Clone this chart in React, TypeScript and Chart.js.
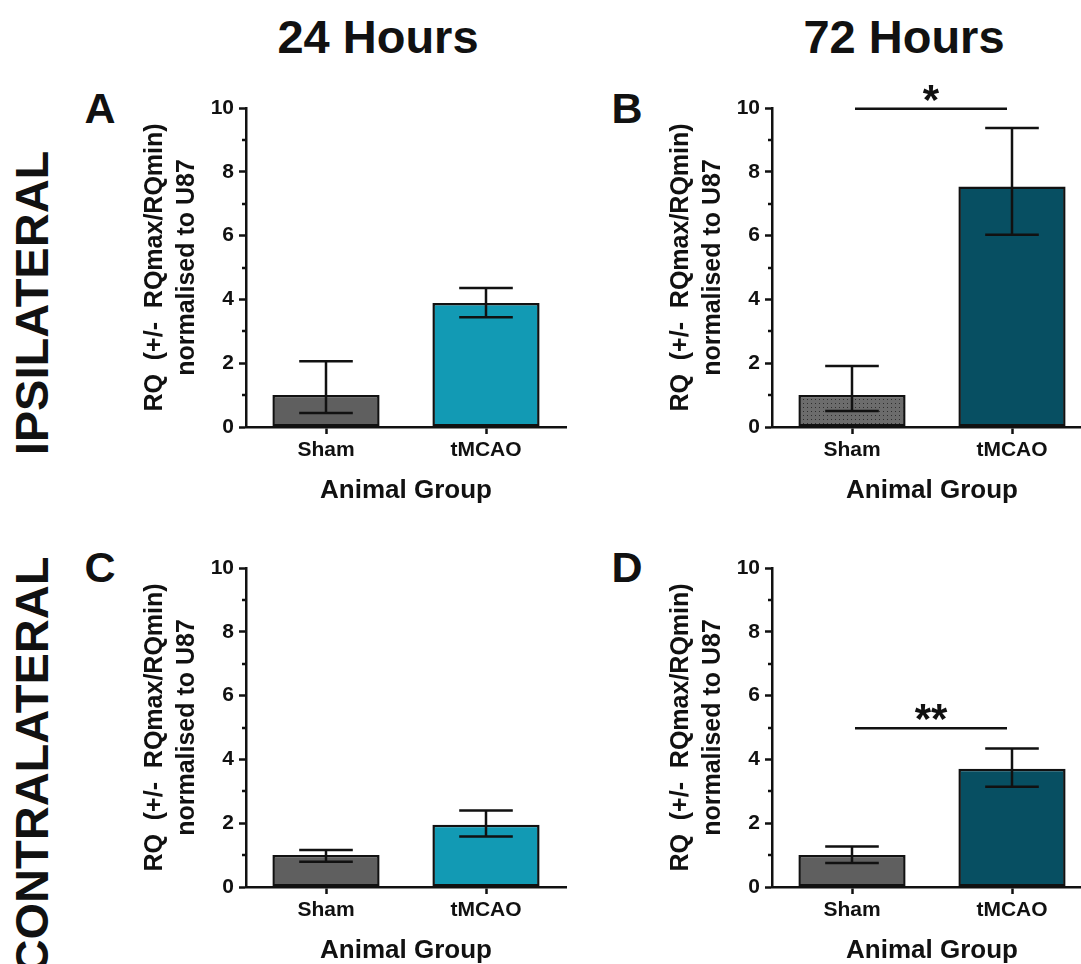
import React, { useEffect, useRef } from 'react';
import { Chart, registerables } from 'chart.js';

Chart.register(...registerables);

const FONT = "'Liberation Sans', Arial, Helvetica, sans-serif";

const categories = ['Sham', 'tMCAO'];
const yTitle = ['RQ  (+/-  RQmax/RQmin)', 'normalised to U87'];
const xTitle = 'Animal Group';
const minorTicks = [1, 3, 5, 7, 9];

const meansA = [1.0, 3.89];
const lowA = [0.44, 3.44];
const highA = [2.06, 4.36];

const meansB = [1.0, 7.54];
const lowB = [0.5, 6.03];
const highB = [1.91, 9.37];

const meansC = [1.0, 1.95];
const lowC = [0.79, 1.58];
const highC = [1.16, 2.4];

const meansD = [1.0, 3.71];
const lowD = [0.75, 3.14];
const highD = [1.27, 4.34];

const sigB = { y: 9.98, label: '*' };
const sigD = { y: 4.98, label: '**' };

const GREY = '#5f5f5f';
const TEAL = '#129ab4';
const DARK_TEAL = '#074f62';
const INK = '#111111';

const overlayPlugin = {
  id: 'overlay',
  afterDatasetsDraw(chart: any) {
    const o = chart.options.plugins.overlay;
    if (!o) return;
    const { ctx } = chart;
    const x = chart.scales.x;
    const y = chart.scales.y;
    const meta = chart.getDatasetMeta(0);
    ctx.save();
    ctx.strokeStyle = INK;
    ctx.lineWidth = 2.5;
    ctx.lineCap = 'butt';
    for (const v of o.minor) {
      const py = Math.round(y.getPixelForValue(v));
      ctx.beginPath();
      ctx.moveTo(y.right - 4, py);
      ctx.lineTo(y.right, py);
      ctx.stroke();
    }
    o.low.forEach((lo: number, i: number) => {
      const el = meta.data[i];
      const cx = el.x;
      const half = el.width / 4;
      const yl = y.getPixelForValue(lo);
      const yh = y.getPixelForValue(o.high[i]);
      ctx.beginPath();
      ctx.moveTo(cx, yl);
      ctx.lineTo(cx, yh);
      ctx.moveTo(cx - half, yl);
      ctx.lineTo(cx + half, yl);
      ctx.moveTo(cx - half, yh);
      ctx.lineTo(cx + half, yh);
      ctx.stroke();
    });
    if (o.sig) {
      const py = y.getPixelForValue(o.sig.y);
      const x1 = x.getPixelForValue(0) + 3;
      const x2 = x.getPixelForValue(1) - 5;
      ctx.beginPath();
      ctx.moveTo(x1, py);
      ctx.lineTo(x2, py);
      ctx.stroke();
      ctx.fillStyle = INK;
      ctx.font = `bold 42px ${FONT}`;
      ctx.textAlign = 'center';
      ctx.textBaseline = 'alphabetic';
      ctx.fillText(o.sig.label, (x1 + x2) / 2, py + 5);
    }
    ctx.restore();
  },
};

function makeDots(): CanvasPattern | string {
  const c = document.createElement('canvas');
  c.width = 4;
  c.height = 4;
  const g = c.getContext('2d');
  if (!g) return GREY;
  g.fillStyle = '#6c6c6c';
  g.fillRect(0, 0, 4, 4);
  g.fillStyle = '#2e2e2e';
  g.fillRect(1, 1, 1, 1);
  const p = g.createPattern(c, 'repeat');
  return p || GREY;
}

type PanelProps = {
  left: number;
  top: number;
  means: number[];
  low: number[];
  high: number[];
  tColor: string;
  dotted?: boolean;
  sig?: { y: number; label: string };
};

function Panel({ left, top, means, low, high, tColor, dotted, sig }: PanelProps) {
  const ref = useRef<HTMLCanvasElement>(null);
  useEffect(() => {
    if (!ref.current) return;
    const shamFill = dotted ? makeDots() : GREY;
    const chart = new Chart(ref.current, {
      type: 'bar',
      data: {
        labels: categories,
        datasets: [
          {
            data: means,
            backgroundColor: [shamFill as any, tColor],
            borderColor: INK,
            borderWidth: 2.5,
            borderSkipped: false,
            barPercentage: 0.67,
            categoryPercentage: 1,
          },
        ],
      },
      options: {
        responsive: false,
        animation: false,
        devicePixelRatio: 1,
        layout: { padding: { left: 0, right: 14, top: 38, bottom: 0 } },
        plugins: {
          legend: { display: false },
          tooltip: { enabled: false },
          overlay: { low, high, sig, minor: minorTicks },
        } as any,
        scales: {
          x: {
            afterFit: (s: any) => {
              s.height = 83;
            },
            grid: {
              offset: false,
              drawOnChartArea: false,
              drawTicks: true,
              tickLength: 7,
              tickWidth: 2.5,
              tickColor: INK,
            },
            border: { display: true, color: INK, width: 2.5 },
            ticks: {
              color: INK,
              padding: 4,
              font: { family: FONT, size: 21, weight: 'bold' },
            },
            title: {
              display: true,
              text: xTitle,
              color: INK,
              padding: { top: 0, bottom: 4 },
              font: { family: FONT, size: 26, weight: 'bold', lineHeight: 1.2 },
            },
          },
          y: {
            min: 0,
            max: 10,
            afterFit: (s: any) => {
              s.width = 110;
            },
            grid: {
              drawOnChartArea: false,
              drawTicks: true,
              tickLength: 7,
              tickWidth: 2.5,
              tickColor: INK,
            },
            border: { display: true, color: INK, width: 2.5 },
            ticks: {
              stepSize: 2,
              color: INK,
              padding: 5,
              font: { family: FONT, size: 21, weight: 'bold' },
            },
            title: {
              display: true,
              text: yTitle,
              color: INK,
              padding: { top: 3, bottom: 0 },
              font: { family: FONT, size: 25, weight: 'bold', lineHeight: 1.28 },
            },
          },
        },
      },
      plugins: [overlayPlugin],
    });
    return () => chart.destroy();
  }, []);
  return (
    <canvas
      ref={ref}
      width={444}
      height={440}
      style={{ position: 'absolute', left, top, width: 444, height: 440 }}
    />
  );
}

const textBase: React.CSSProperties = {
  position: 'absolute',
  fontFamily: FONT,
  fontWeight: 'bold',
  color: INK,
  whiteSpace: 'nowrap',
};

function Label({ text, cx, top, size }: { text: string; cx: number; top: number; size: number }) {
  return (
    <div
      style={{
        ...textBase,
        left: cx - 200,
        width: 400,
        top,
        fontSize: size,
        lineHeight: `${size}px`,
        textAlign: 'center',
      }}
    >
      {text}
    </div>
  );
}

function VLabel({ text, cx, cy, size }: { text: string; cx: number; cy: number; size: number }) {
  return (
    <div
      style={{
        ...textBase,
        left: cx,
        top: cy,
        fontSize: size,
        lineHeight: `${size}px`,
        transform: 'translate(-50%, -50%) rotate(-90deg)',
      }}
    >
      {text}
    </div>
  );
}

export default function App() {
  return (
    <div
      style={{
        position: 'fixed',
        left: 0,
        top: 0,
        width: 1081,
        height: 964,
        overflow: 'hidden',
        background: '#ffffff',
      }}
    >
      <Label text="24 Hours" cx={378} top={12.5} size={47} />
      <Label text="72 Hours" cx={904} top={12.5} size={47} />
      <VLabel text="IPSILATERAL" cx={31} cy={303} size={47} />
      <VLabel text="CONTRALATERAL" cx={31} cy={765} size={47} />
      <Label text="A" cx={100} top={86.5} size={43} />
      <Label text="B" cx={627} top={86.5} size={43} />
      <Label text="C" cx={100} top={546} size={43} />
      <Label text="D" cx={627} top={546} size={43} />
      <Panel left={136} top={70} means={meansA} low={lowA} high={highA} tColor={TEAL} />
      <Panel left={662} top={70} means={meansB} low={lowB} high={highB} tColor={DARK_TEAL} dotted sig={sigB} />
      <Panel left={136} top={530} means={meansC} low={lowC} high={highC} tColor={TEAL} />
      <Panel left={662} top={530} means={meansD} low={lowD} high={highD} tColor={DARK_TEAL} sig={sigD} />
    </div>
  );
}
